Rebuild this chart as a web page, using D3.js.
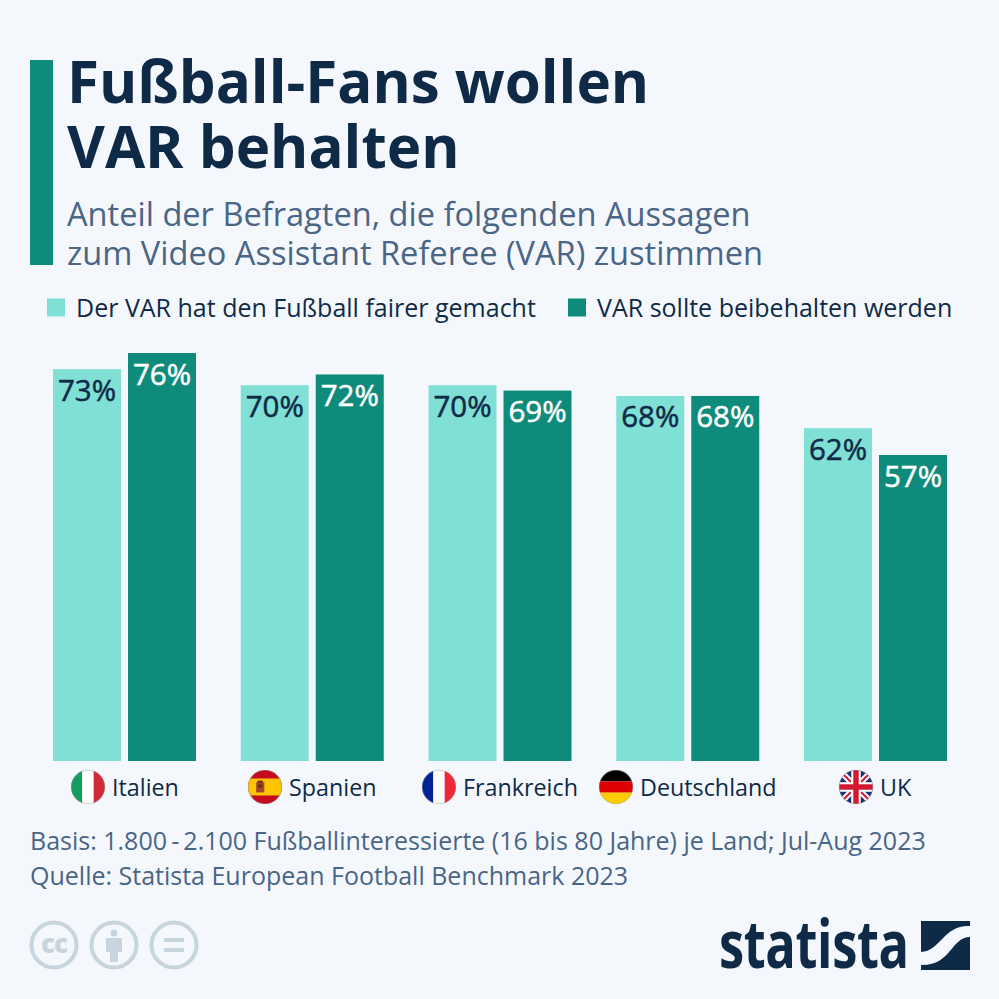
<!DOCTYPE html>
<html><head><meta charset="utf-8">
<script src="https://cdn.jsdelivr.net/npm/d3@7/dist/d3.min.js"></script>
<style>html,body{margin:0;padding:0;background:#f4f8fc}svg{display:block}text{font-family:"Open Sans",sans-serif}</style>
</head><body><svg id="c" width="999" height="999"></svg>
<script>
const titleLines=["Fußball-Fans wollen","VAR behalten"];
const subtitleLines=["Anteil der Befragten, die folgenden Aussagen","zum Video Assistant Referee (VAR) zustimmen"];
const seriesNames=["Der VAR hat den Fußball fairer gemacht","VAR sollte beibehalten werden"];
const categories=["Italien","Spanien","Frankreich","Deutschland","UK"];
const fairer=[73,70,70,68,62];
const behalten=[76,72,69,68,57];
const footLines=["Basis: 1.800\u2009-\u20092.100 Fußballinteressierte (16 bis 80 Jahre) je Land; Jul-Aug 2023","Quelle: Statista European Football Benchmark 2023"];
const LIGHT="#80e0d5",DARK="#0f8b7c",NAVY="#0f2a47",SUB="#4a6585",GREY="#c9d5de";

const svg=d3.select("#c");
svg.append("rect").attr("width",999).attr("height",999).attr("fill","#f4f8fc");
svg.append("rect").attr("x",30).attr("y",60).attr("width",23).attr("height",205).attr("fill",DARK);
svg.selectAll(".t").data(titleLines).join("text").attr("x",67).attr("y",(d,i)=>103+i*65)
 .attr("font-size",58.3).attr("font-weight",700).attr("fill",NAVY).text(d=>d);
svg.selectAll(".s").data(subtitleLines).join("text").attr("x",67).attr("y",(d,i)=>226+i*39)
 .attr("font-size",32.6).attr("fill",SUB).text(d=>d);

// legend
const legX=[47,568],legTx=[76,597],legC=[LIGHT,DARK];
seriesNames.forEach((n,i)=>{
 svg.append("rect").attr("x",legX[i]).attr("y",298.5).attr("width",18).attr("height",18).attr("fill",legC[i]);
 svg.append("text").attr("x",legTx[i]).attr("y",317).attr("font-size",25).attr("fill",NAVY).text(n);
});

// scales
const y=d3.scaleLinear().domain([0,76]).range([761,353]);
const x0=d3.scaleBand().domain(categories).range([53,947]).paddingInner(0.2384).paddingOuter(0);
const x1=d3.scaleBand().domain([0,1]).range([0,x0.bandwidth()]).paddingInner(0.0933);
const groups=svg.selectAll(".g").data(categories).join("g").attr("transform",d=>`translate(${x0(d)},0)`);
[fairer,behalten].forEach((vals,k)=>{
 groups.append("rect").attr("x",x1(k)).attr("width",x1.bandwidth())
  .attr("y",(d,i)=>y(vals[i])).attr("height",(d,i)=>y(0)-y(vals[i])).attr("fill",legC[k]);
 groups.append("text").attr("x",x1(k)+x1.bandwidth()/2).attr("y",(d,i)=>y(vals[i])+31.5)
  .attr("text-anchor","middle").attr("font-size",29.5).attr("font-weight",500)
  .attr("fill",k?"#ffffff":NAVY).attr("stroke",k?"#ffffff":NAVY).attr("stroke-width",0.5).text((d,i)=>vals[i]+"%");
});

// category labels + flags
const flagCx=[88,265,439,616,856],labX=[112,289,463,640,880];
const defs=svg.append("defs");
function flag(i,draw){
 const cx=flagCx[i],cy=787,r=17;
 defs.append("clipPath").attr("id","f"+i).append("circle").attr("cx",cx).attr("cy",cy).attr("r",r);
 const g=svg.append("g").attr("clip-path",`url(#f${i})`);
 draw(g,cx-r,cy-r,2*r);
 svg.append("circle").attr("cx",cx).attr("cy",cy).attr("r",r-0.3).attr("fill","none").attr("stroke","#999",).attr("stroke-opacity",.6).attr("stroke-width",.8);
}
const R=(g,x,y,w,h,f)=>g.append("rect").attr("x",x).attr("y",y).attr("width",w).attr("height",h).attr("fill",f);
flag(0,(g,x,y,s)=>{R(g,x,y,s/3,s,"#169b62");R(g,x+s/3,y,s/3,s,"#fff");R(g,x+2*s/3,y,s/3,s,"#cf2b37")});
flag(1,(g,x,y,s)=>{R(g,x,y,s,s,"#c60b1e");R(g,x,y+s*.25,s,s*.5,"#ffc400");
 R(g,x+s*.24,y+s*.36,s*.24,s*.3,"#a8452a");R(g,x+s*.28,y+s*.31,s*.16,s*.07,"#6d3a1a");R(g,x+s*.3,y+s*.42,s*.12,s*.1,"#5c3a12")});
flag(2,(g,x,y,s)=>{R(g,x,y,s/3,s,"#002395");R(g,x+s/3,y,s/3,s,"#fff");R(g,x+2*s/3,y,s/3,s,"#ed2939")});
flag(3,(g,x,y,s)=>{R(g,x,y,s,s/3,"#000");R(g,x,y+s/3,s,s/3,"#dd0000");R(g,x,y+2*s/3,s,s/3,"#ffce00")});
flag(4,(g,x,y,s)=>{R(g,x,y,s,s,"#1b2f72");
 const L=(x1,y1,x2,y2,c,w)=>g.append("line").attr("x1",x1).attr("y1",y1).attr("x2",x2).attr("y2",y2).attr("stroke",c).attr("stroke-width",w);
 L(x,y,x+s,y+s,"#fff",6);L(x+s,y,x,y+s,"#fff",6);L(x,y,x+s,y+s,"#d0182f",2);L(x+s,y,x,y+s,"#d0182f",2);
 R(g,x+s*.36,y,s*.28,s,"#fff");R(g,x,y+s*.36,s,s*.28,"#fff");
 R(g,x+s*.42,y,s*.16,s,"#d0182f");R(g,x,y+s*.42,s,s*.16,"#d0182f")});
svg.selectAll(".cat").data(categories).join("text").attr("x",(d,i)=>labX[i]).attr("y",795.5)
 .attr("font-size",23.3).attr("fill",NAVY).text(d=>d);

// footer
svg.selectAll(".f").data(footLines).join("text").attr("x",30).attr("y",(d,i)=>850+i*35)
 .attr("font-size",25).attr("fill",SUB).text(d=>d);

// CC icons
[54,114,174].forEach(cx=>svg.append("circle").attr("cx",cx).attr("cy",945).attr("r",22.5).attr("fill","none").attr("stroke",GREY).attr("stroke-width",4));
svg.append("text").attr("x",54).attr("y",953).attr("text-anchor","middle").attr("font-size",26).attr("font-weight",800).attr("fill",GREY).attr("letter-spacing",-1).text("cc");
svg.append("circle").attr("cx",114).attr("cy",933).attr("r",3.5).attr("fill",GREY);
svg.append("path").attr("d","M106 938h16v14h-4v10h-8v-10h-4z").attr("fill",GREY);
R(svg,164,938,20,4,GREY);R(svg,164,948,20,4,GREY);

// logo
svg.append("text").attr("x",0).attr("y",0).attr("transform","translate(719,968) scale(0.755,1)")
 .attr("font-size",67).attr("font-weight",700).attr("fill",NAVY).attr("letter-spacing",-0.5).text("statista");
svg.append("rect").attr("x",921).attr("y",921).attr("width",49).attr("height",49).attr("fill",NAVY);
svg.append("path").attr("d","M921 952C941 951 943 925 970 926L970 937C951 937 951 966 921 965Z").attr("fill","#f4f8fc");
</script></body></html>
